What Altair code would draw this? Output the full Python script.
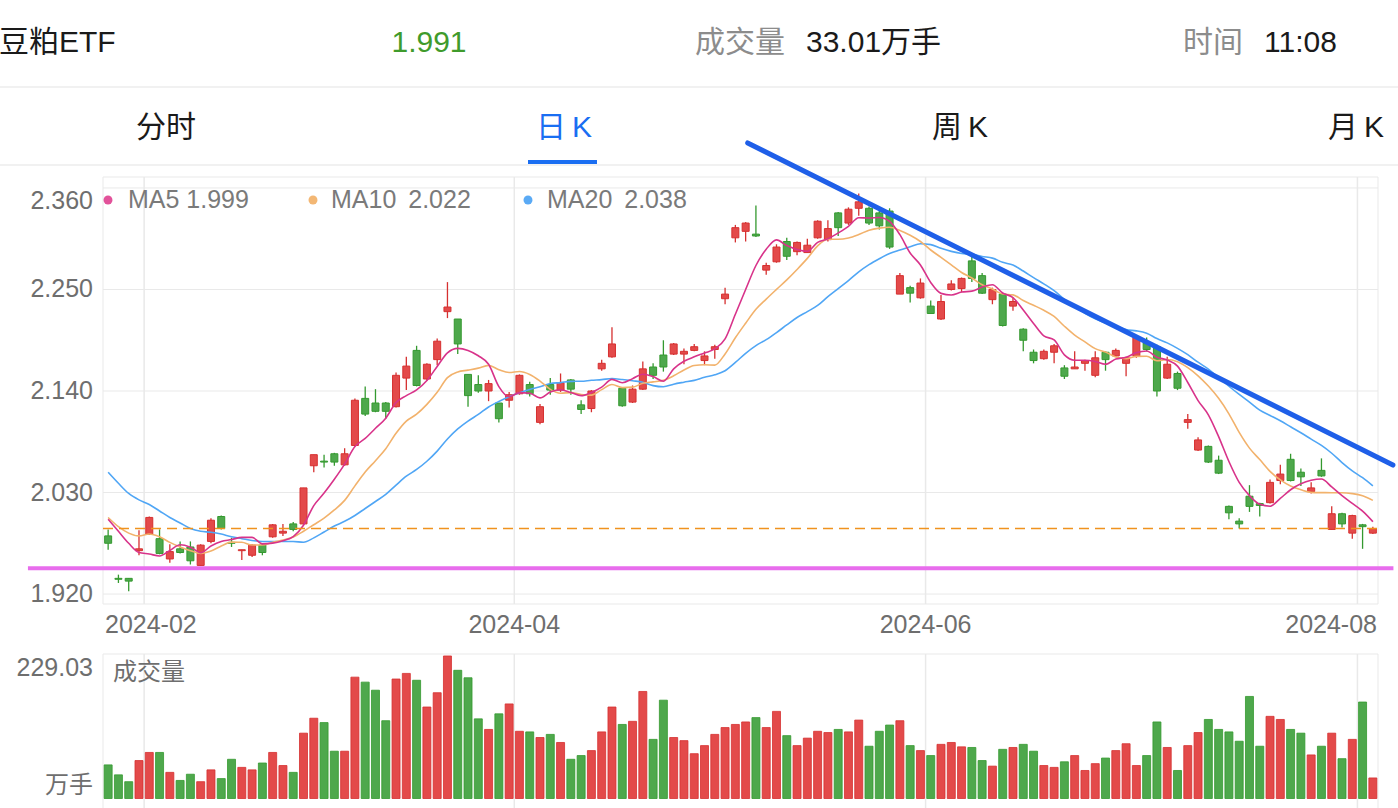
import altair as alt
import pandas as pd

# ---------------- data ----------------
OPEN = [1.983, 1.937, 1.937, 1.967, 1.985, 1.980, 1.958, 1.969, 1.971, 1.951,
        1.977, 2.004, 1.976, 1.967, 1.962, 1.973, 1.982, 1.986, 1.996, 1.996,
        2.059, 2.064, 2.072, 2.060, 2.081, 2.132, 2.127, 2.127, 2.123, 2.154,
        2.184, 2.153, 2.174, 2.226, 2.218, 2.158, 2.147, 2.140, 2.127, 2.130,
        2.137, 2.147, 2.106, 2.147, 2.141, 2.152, 2.125, 2.121, 2.164, 2.177,
        2.143, 2.128, 2.142, 2.166, 2.179, 2.180, 2.180, 2.184, 2.173, 2.185,
        2.240, 2.306, 2.313, 2.310, 2.271, 2.280, 2.302, 2.291, 2.290, 2.306,
        2.304, 2.333, 2.322, 2.338, 2.338, 2.333, 2.335, 2.245, 2.252, 2.241,
        2.232, 2.218, 2.250, 2.251, 2.281, 2.265, 2.239, 2.245, 2.232, 2.207,
        2.182, 2.175, 2.182, 2.165, 2.164, 2.170, 2.157, 2.182, 2.178, 2.170,
        2.178, 2.192, 2.188, 2.154, 2.159, 2.106, 2.076, 2.080, 2.065, 2.015,
        1.999, 2.026, 2.018, 2.019, 2.043, 2.066, 2.052, 2.031, 2.054, 1.990,
        2.007, 1.986, 1.995, 1.986]
HIGH = [1.990, 1.941, 1.937, 1.989, 2.004, 1.990, 1.974, 1.977, 1.977, 1.974,
        2.002, 2.005, 1.981, 1.968, 1.974, 1.975, 1.996, 1.996, 1.998, 2.035,
        2.071, 2.071, 2.073, 2.078, 2.132, 2.145, 2.142, 2.128, 2.160, 2.177,
        2.189, 2.170, 2.197, 2.258, 2.218, 2.158, 2.157, 2.152, 2.127, 2.139,
        2.158, 2.150, 2.126, 2.154, 2.159, 2.153, 2.130, 2.141, 2.174, 2.209,
        2.144, 2.146, 2.172, 2.170, 2.195, 2.192, 2.186, 2.191, 2.183, 2.190,
        2.252, 2.320, 2.323, 2.341, 2.279, 2.299, 2.306, 2.302, 2.305, 2.325,
        2.325, 2.334, 2.339, 2.354, 2.340, 2.336, 2.338, 2.268, 2.254, 2.262,
        2.238, 2.244, 2.260, 2.263, 2.286, 2.268, 2.252, 2.246, 2.241, 2.208,
        2.185, 2.185, 2.191, 2.168, 2.183, 2.174, 2.183, 2.183, 2.186, 2.177,
        2.200, 2.198, 2.190, 2.177, 2.161, 2.115, 2.090, 2.081, 2.070, 2.016,
        2.002, 2.038, 2.019, 2.044, 2.060, 2.072, 2.056, 2.041, 2.067, 2.015,
        2.008, 2.006, 1.996, 1.993]
LOW = [1.968, 1.932, 1.923, 1.962, 1.984, 1.963, 1.954, 1.964, 1.952, 1.951,
       1.975, 1.990, 1.971, 1.957, 1.960, 1.962, 1.981, 1.983, 1.988, 1.995,
       2.052, 2.057, 2.059, 2.059, 2.080, 2.113, 2.117, 2.110, 2.122, 2.141,
       2.145, 2.151, 2.168, 2.219, 2.180, 2.123, 2.138, 2.129, 2.106, 2.122,
       2.136, 2.134, 2.104, 2.136, 2.139, 2.136, 2.115, 2.117, 2.162, 2.176,
       2.123, 2.127, 2.141, 2.153, 2.161, 2.179, 2.169, 2.183, 2.168, 2.175,
       2.234, 2.301, 2.302, 2.307, 2.266, 2.279, 2.282, 2.287, 2.290, 2.305,
       2.302, 2.308, 2.320, 2.330, 2.320, 2.315, 2.294, 2.245, 2.236, 2.240,
       2.224, 2.217, 2.249, 2.247, 2.258, 2.245, 2.234, 2.210, 2.227, 2.183,
       2.170, 2.174, 2.170, 2.153, 2.164, 2.162, 2.155, 2.162, 2.177, 2.156,
       2.176, 2.183, 2.134, 2.153, 2.141, 2.099, 2.075, 2.062, 2.050, 2.001,
       1.991, 2.009, 2.004, 2.018, 2.039, 2.042, 2.037, 2.029, 2.047, 1.990,
       1.992, 1.980, 1.969, 1.985]
CLOSE = [1.975, 1.936, 1.934, 1.969, 2.003, 1.964, 1.966, 1.965, 1.956, 1.973,
         2.000, 1.991, 1.975, 1.968, 1.973, 1.965, 1.995, 1.988, 1.990, 2.035,
         2.071, 2.063, 2.063, 2.072, 2.130, 2.115, 2.118, 2.118, 2.157, 2.167,
         2.146, 2.169, 2.194, 2.231, 2.191, 2.135, 2.140, 2.148, 2.110, 2.136,
         2.157, 2.137, 2.123, 2.141, 2.149, 2.142, 2.120, 2.140, 2.170, 2.191,
         2.124, 2.142, 2.164, 2.157, 2.166, 2.191, 2.183, 2.188, 2.178, 2.188,
         2.245, 2.317, 2.322, 2.308, 2.276, 2.296, 2.286, 2.301, 2.298, 2.324,
         2.316, 2.317, 2.337, 2.345, 2.322, 2.319, 2.296, 2.265, 2.246, 2.257,
         2.224, 2.237, 2.256, 2.262, 2.262, 2.246, 2.250, 2.211, 2.237, 2.195,
         2.173, 2.183, 2.189, 2.156, 2.166, 2.173, 2.176, 2.174, 2.184, 2.176,
         2.198, 2.185, 2.140, 2.169, 2.143, 2.109, 2.087, 2.063, 2.051, 2.008,
         1.996, 2.015, 2.016, 2.041, 2.050, 2.043, 2.047, 2.035, 2.048, 2.007,
         1.996, 2.005, 1.993, 1.991]
VOLUME = [54, 38, 27, 61, 74, 74, 42, 29, 39, 27,
          46, 32, 63, 50, 46, 57, 74, 53, 42, 105,
          129, 122, 76, 76, 195, 187, 174, 125, 192, 201,
          190, 147, 170, 229.03, 206, 194, 128, 111, 136, 152,
          108, 107, 98, 103, 90, 63, 69, 77, 107, 147,
          119, 124, 172, 95, 158, 98, 93, 72, 85, 103,
          114, 119, 123, 130, 114, 140, 101, 85, 97, 108,
          106, 111, 107, 126, 84, 108, 118, 125, 85, 77,
          69, 87, 90, 83, 82, 61, 52, 79, 82, 87,
          76, 53, 50, 59, 69, 45, 56, 65, 77, 88,
          53, 69, 123, 82, 45, 85, 106, 127, 111, 107,
          92, 164, 84, 132, 127, 111, 105, 70, 84, 105,
          64, 95, 155, 33.01]
# moving-average values before a full window is available
MA5_HEAD = [2.001, 1.988, 1.975, 1.965]
MA10_HEAD = [2.003, 1.993, 1.986, 1.983, 1.985, 1.982, 1.976, 1.971, 1.967]
MA20_HEAD = [2.052, 2.040, 2.029, 2.022, 2.017, 2.010, 2.003, 1.997, 1.991, 1.988,
             1.987, 1.985, 1.982, 1.980, 1.978, 1.977, 1.977, 1.977, 1.977]

MONTH_START_IDX = [4, 40, 80, 122]
MONTH_LABELS = ["2024-02", "2024-04", "2024-06", "2024-08"]
PRICE_TICKS = [2.360, 2.250, 2.140, 2.030, 1.920]
PRICE_LABELS = ["2.360", "2.250", "2.140", "2.030", "1.920"]
LEGEND_TEXT = ["MA5\u00a01.999", "MA10\u00a0\u20092.022", "MA20\u00a0\u20092.038"]
VOL_MAX_LABEL = "229.03"
LAST_PRICE = 1.991
SUPPORT_PRICE = 1.948
SUPPORT_IDX = [-7.8, 125.0]
TREND_IDX = [62.2, 124.95]
TREND_PRICE = [2.4088, 2.0598]

# ---------------- styling ----------------
FONT = "Liberation Sans, Noto Sans CJK SC"
RED, RED_EDGE = "#e34a4a", "#d63030"
GREEN, GREEN_EDGE = "#4ea84c", "#34992f"
GRID = "#e9e9e9"
MA_COLORS = {"MA5": "#d8338a", "MA10": "#f2b26c", "MA20": "#50a6f5"}
DOT_COLORS = ["#e2529a", "#f3b774", "#5aaaf5"]

n = len(CLOSE)
df = pd.DataFrame({"i": list(range(n)), "open": OPEN, "high": HIGH, "low": LOW,
                   "close": CLOSE, "vol": VOLUME})
up = df[df["close"] >= df["open"]]
dn = df[df["close"] < df["open"]]

cs = pd.Series(CLOSE)


def moving(k, head):
    m = cs.rolling(k).mean()
    m.iloc[:k - 1] = head
    return m


ma_frames = {
    "MA5": pd.DataFrame({"i": df["i"], "v": moving(5, MA5_HEAD)}),
    "MA10": pd.DataFrame({"i": df["i"], "v": moving(10, MA10_HEAD)}),
    "MA20": pd.DataFrame({"i": df["i"], "v": moving(20, MA20_HEAD)}),
}

X_MIN, X_MAX = -0.5, n - 0.5
XS = alt.Scale(domain=[X_MIN, X_MAX], range=[98, 1383])
P_MIN, P_MAX = 1.9092, 2.3719
PY = alt.Scale(domain=[P_MIN, P_MAX], range=[604, 177], zero=False, nice=False)
V_TOP = 232.2
VY = alt.Scale(domain=[0, V_TOP], range=[798.5, 654], zero=True, nice=False)

one = pd.DataFrame({"a": [0]})


def xf(field="i"):
    return alt.X(f"{field}:Q", scale=XS, axis=None)


def xd(v):
    return alt.XDatum(v, type="quantitative", scale=XS, axis=None)


def py(field):
    return alt.Y(f"{field}:Q", scale=PY, axis=None)


def pyd(v):
    return alt.YDatum(v, type="quantitative", scale=PY, axis=None)


def vyd(v):
    return alt.YDatum(v, type="quantitative", scale=VY, axis=None)


layers = []

# header separators
for yy in [87, 165]:
    layers.append(alt.Chart(one).mark_rule(color="#ececec", strokeWidth=1.5).encode(
        x=alt.value(0), x2=alt.value(1398), y=alt.value(yy)))


def htext(txt, x, y, color, align="left", size=30):
    return alt.Chart(one).mark_text(text=txt, align=align, baseline="middle", font=FONT,
                                    fontSize=size, color=color).encode(
        x=alt.value(x), y=alt.value(y))


layers += [
    htext("豆粕ETF", -1, 43, "#1a1a1a"),
    htext("1.991", 429, 43, "#3f9b2c", align="center"),
    htext("成交量", 695, 43, "#8c8c8c"),
    htext("33.01万手", 806, 43, "#1a1a1a"),
    htext("时间", 1183, 43, "#8c8c8c"),
    htext("11:08", 1264, 43, "#1a1a1a"),
    htext("分时", 166, 128, "#1a1a1a", align="center"),
    htext("日\u2009K", 564, 128, "#1a6ef2", align="center"),
    htext("周\u2009K", 960, 128, "#1a1a1a", align="center"),
    htext("月\u2009K", 1356, 128, "#1a1a1a", align="center"),
]
layers.append(alt.Chart(one).mark_rect(color="#1a6ef2").encode(
    x=alt.value(528), x2=alt.value(597), y=alt.value(160), y2=alt.value(164)))

# price frame and grid
layers.append(alt.Chart(one).mark_rect(fillOpacity=0, stroke=GRID, strokeWidth=1).encode(
    x=xd(X_MIN), x2=alt.X2Datum(X_MAX), y=pyd(P_MIN), y2=alt.Y2Datum(P_MAX)))
ptick_df = pd.DataFrame({"p": PRICE_TICKS, "label": PRICE_LABELS})
layers.append(alt.Chart(ptick_df).mark_rule(color=GRID, strokeWidth=1).encode(
    x=xd(X_MIN), x2=alt.X2Datum(X_MAX), y=py("p")))
grid_df = pd.DataFrame({"g": [m - 0.5 for m in MONTH_START_IDX]})
layers.append(alt.Chart(grid_df).mark_rule(color=GRID, strokeWidth=1.5).encode(
    x=xf("g"), y=pyd(P_MIN), y2=alt.Y2Datum(P_MAX)))

# volume frame and grid
layers.append(alt.Chart(one).mark_rect(fillOpacity=0, stroke=GRID, strokeWidth=1).encode(
    x=xd(X_MIN), x2=alt.X2Datum(X_MAX), y=vyd(V_TOP), y2=alt.value(815)))
layers.append(alt.Chart(grid_df).mark_rule(color=GRID, strokeWidth=1.5).encode(
    x=xf("g"), y=vyd(V_TOP), y2=alt.value(815)))

# y labels
layers.append(alt.Chart(ptick_df.iloc[1:]).mark_text(
    align="right", baseline="middle", dx=-10, font=FONT, fontSize=25, color="#6e6e6e").encode(
    x=xd(X_MIN), y=py("p"), text="label:N"))
layers.append(alt.Chart(ptick_df.iloc[:1]).mark_text(
    align="right", baseline="middle", dx=-10, dy=13, font=FONT, fontSize=25, color="#6e6e6e").encode(
    x=xd(X_MIN), y=py("p"), text="label:N"))

# x labels
lab_df = pd.DataFrame({"g": [m - 0.5 for m in MONTH_START_IDX], "label": MONTH_LABELS})
layers.append(alt.Chart(one).mark_text(
    text=MONTH_LABELS[0], align="left", baseline="middle", dx=2, dy=21, font=FONT,
    fontSize=25, color="#6e6e6e").encode(x=xd(X_MIN), y=pyd(P_MIN)))
layers.append(alt.Chart(lab_df.iloc[1:3]).mark_text(
    align="center", baseline="middle", dy=21, font=FONT, fontSize=25, color="#6e6e6e").encode(
    x=xf("g"), y=pyd(P_MIN), text="label:N"))
layers.append(alt.Chart(one).mark_text(
    text=MONTH_LABELS[3], align="right", baseline="middle", dx=-1, dy=21, font=FONT,
    fontSize=25, color="#6e6e6e").encode(x=xd(X_MAX), y=pyd(P_MIN)))

# volume labels
layers.append(alt.Chart(one).mark_text(
    text=VOL_MAX_LABEL, align="right", baseline="middle", dx=-10, dy=14, font=FONT,
    fontSize=25, color="#6e6e6e").encode(x=xd(X_MIN), y=vyd(V_TOP)))
layers.append(alt.Chart(one).mark_text(
    text="万手", align="right", baseline="middle", dx=-10, dy=-13, font=FONT,
    fontSize=24, color="#6e6e6e").encode(x=xd(X_MIN), y=vyd(0)))
layers.append(alt.Chart(one).mark_text(
    text="成交量", align="left", baseline="middle", dx=10, dy=19, font=FONT,
    fontSize=24, color="#6e6e6e").encode(x=xd(X_MIN), y=vyd(V_TOP)))

# volume bars
for part, fill, edge in [(up, RED, RED_EDGE), (dn, GREEN, GREEN_EDGE)]:
    layers.append(alt.Chart(part).mark_bar(size=8, fill=fill, stroke=edge, strokeWidth=0.8).encode(
        x=xf(), y=alt.Y("vol:Q", scale=VY, axis=None), y2=alt.Y2Datum(0)))

# candles
for part, fill, edge in [(up, RED, RED_EDGE), (dn, GREEN, GREEN_EDGE)]:
    layers.append(alt.Chart(part).mark_rule(color=edge, strokeWidth=1.3).encode(
        x=xf(), y=py("low"), y2=alt.Y2("high:Q")))
    layers.append(alt.Chart(part).mark_bar(size=7, fill=fill, stroke=edge, strokeWidth=1).encode(
        x=xf(), y=py("open"), y2=alt.Y2("close:Q")))

# moving averages
for name in ["MA20", "MA10", "MA5"]:
    layers.append(alt.Chart(ma_frames[name]).mark_line(
        color=MA_COLORS[name], strokeWidth=1.6, interpolate="monotone").encode(
        x=xf(), y=py("v")))

# last price dashed line
layers.append(alt.Chart(one).mark_rule(color="#f0921e", strokeWidth=1.6, strokeDash=[10, 6]).encode(
    x=xd(X_MIN), x2=alt.X2Datum(X_MAX), y=pyd(LAST_PRICE)))

# support line (user drawn)
layers.append(alt.Chart(one).mark_rule(color="#e86ded", strokeWidth=4, clip=False).encode(
    x=xd(SUPPORT_IDX[0]), x2=alt.X2Datum(SUPPORT_IDX[1]), y=pyd(SUPPORT_PRICE)))

# trend line (user drawn)
trend_df = pd.DataFrame({"i": TREND_IDX, "p": TREND_PRICE})
layers.append(alt.Chart(trend_df).mark_line(color="#1f5fe8", strokeWidth=5, clip=False,
                                            strokeCap="round").encode(x=xf(), y=py("p")))

# legend
legend_x_dot = [108, 313, 528]
legend_x_txt = [128, 331, 547]
for k in range(3):
    layers.append(alt.Chart(one).mark_point(filled=True, size=80, opacity=1,
                                            color=DOT_COLORS[k]).encode(
        x=alt.value(legend_x_dot[k]), y=alt.value(200)))
    layers.append(alt.Chart(one).mark_text(text=LEGEND_TEXT[k], align="left", baseline="middle",
                                           font=FONT, fontSize=25, color="#7a7a7a").encode(
        x=alt.value(legend_x_txt[k]), y=alt.value(200)))

chart = alt.layer(*layers).resolve_scale(y="independent").properties(
    width=1398, height=808, padding=0, background="white",
    autosize=alt.AutoSizeParams(type="none"),
).configure_view(strokeWidth=0)

chart.save("out.html", embed_options={"renderer": "svg", "actions": False})
